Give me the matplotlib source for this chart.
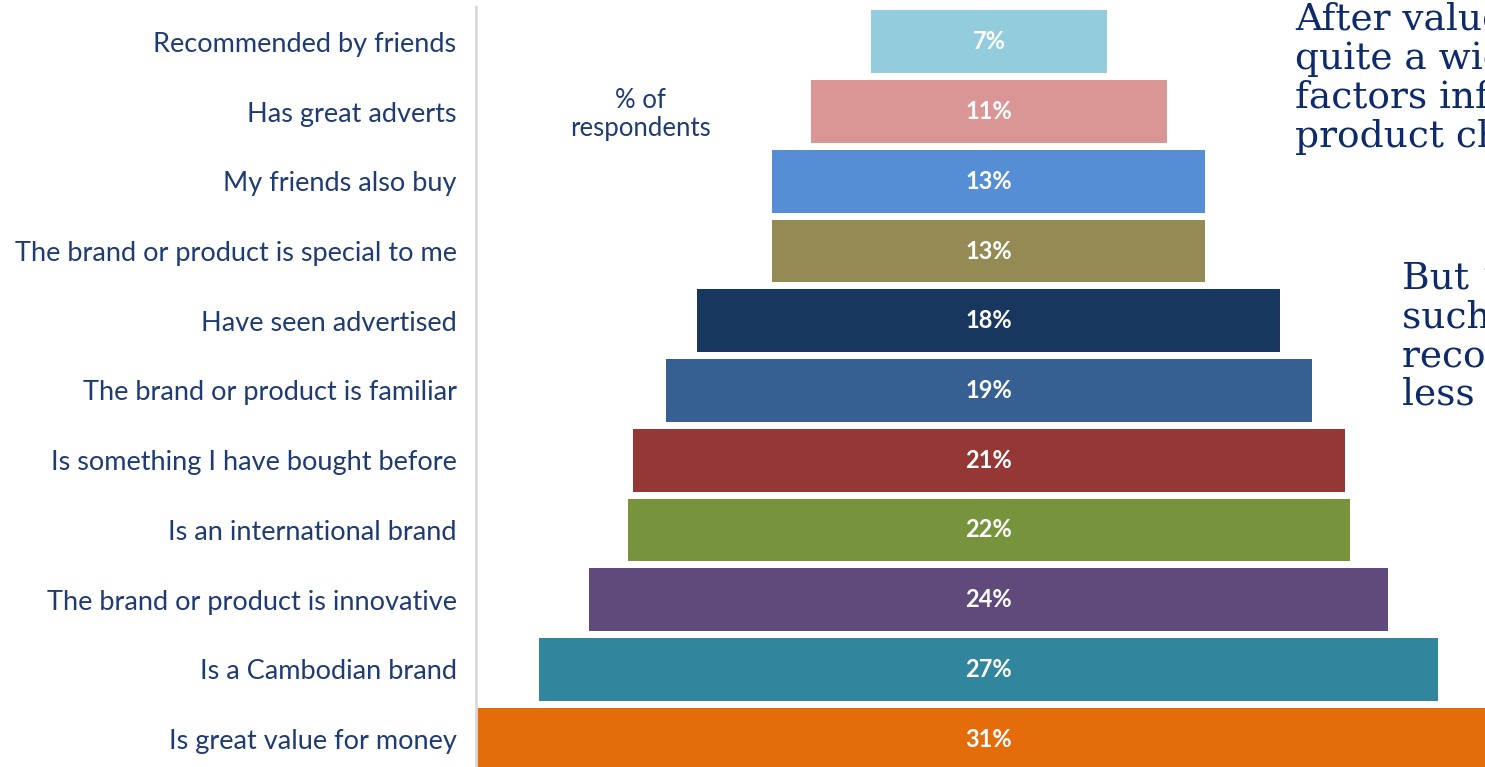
## Funnel chart: factors influencing product choice
import matplotlib
matplotlib.use('Agg')
import matplotlib.pyplot as plt

# Data (top to bottom)
factors = ['Recommended by friends', 'Has great adverts', 'My friends also buy',
           'The brand or product is special to me', 'Have seen advertised',
           'The brand or product is familiar', 'Is something I have bought before',
           'Is an international brand', 'The brand or product is innovative',
           'Is a Cambodian brand', 'Is great value for money']
pct = [7.1, 10.7, 13.0, 13.0, 17.5, 19.4, 21.4, 21.7, 24.0, 27.0, 31.0]
colors = ['#93CDDD', '#D99694', '#558ED5', '#948A54', '#17375E', '#376092',
          '#953735', '#77933C', '#604A7B', '#31859C', '#E46C0A']

navy = '#1F3B73'
fig = plt.figure(figsize=(14.85, 7.67), dpi=100)
ax = fig.add_axes([476 / 1485, 0, 1 - 476 / 1485, 1])

ypos = list(range(len(factors)))
ax.barh(ypos, pct, left=[-p / 2 for p in pct], height=0.9, color=colors)

for y, p in zip(ypos, pct):
    ax.text(0, y, f'{p:.0f}%', ha='center', va='center', color='white',
            fontsize=17, fontweight='bold', family='Lato')

ax.set_xlim(-15.4, 14.9)
ax.set_ylim(10.4, -0.6)

ax.set_xticks([])
ax.set_yticks(ypos)
ax.set_yticklabels(factors, fontsize=19.5, color=navy, family='Lato')
ax.tick_params(axis='y', length=0, pad=14)
for s in ['top', 'right', 'bottom']:
    ax.spines[s].set_visible(False)
ax.spines['left'].set_color('#D9D9D9')
ax.spines['left'].set_linewidth(2)
ax.spines['left'].set_bounds(-0.5, 10.4)

ax.text(-10.45, 1.04, '% of\nrespondents', ha='center', va='center',
        fontsize=18.5, color=navy, family='Lato', linespacing=1.15)

# commentary text on the right (cut off at the edge, as in the original slide)
fig.text(1295 / 1485, 0.998, 'After value, there are\nquite a wide range of\nfactors influencing\nproduct choice',
         ha='left', va='top', fontsize=27, color='#0D2A6B', family='DejaVu Serif',
         linespacing=1.1)
fig.text(1402 / 1485, 0.66, "But \u2018social\u2019 factors\nsuch as\nrecommendations are\nless important",
         ha='left', va='top', fontsize=27, color='#0D2A6B', family='DejaVu Serif',
         linespacing=1.1)

fig.savefig('out.png', dpi=100)
